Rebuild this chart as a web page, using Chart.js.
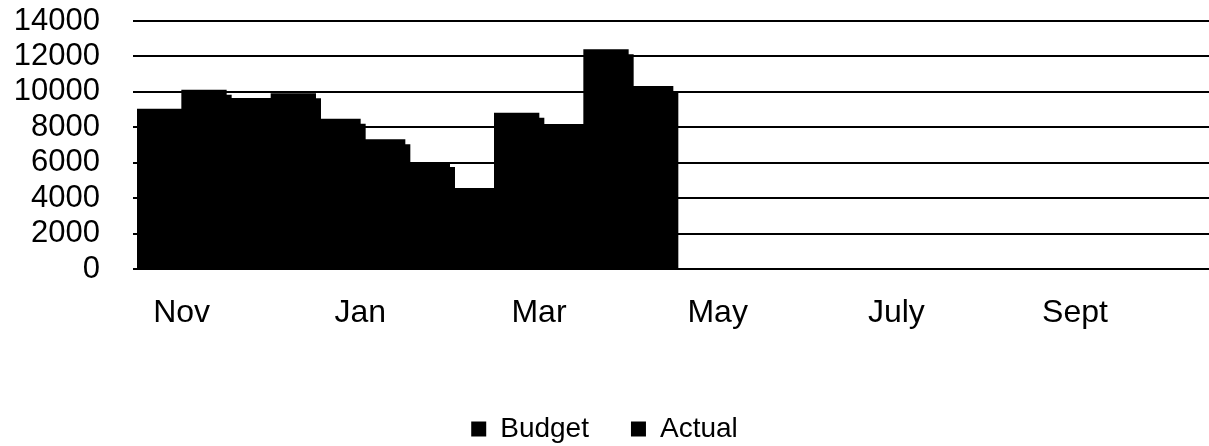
<!DOCTYPE html>
<html>
<head>
<meta charset="utf-8">
<script src="https://cdn.jsdelivr.net/npm/chart.js@4.4.1/dist/chart.umd.min.js"></script>
<style>
  html, body { margin: 0; padding: 0; background: #ffffff; }
  #wrap { width: 1209px; height: 446px; }
</style>
</head>
<body>
<div id="wrap"><canvas id="c" width="1209" height="446"></canvas></div>
<script>
// ---- data ----
const months = ['Nov', 'Dec', 'Jan', 'Feb', 'Mar', 'Apr', 'May', 'June', 'July', 'Aug', 'Sept', 'Oct'];
const budget = [9030, 9630, 8470, 6020, 8800, 12380, null, null, null, null, null, null];
const actual = [10100, 9900, 7300, 4550, 8160, 10310, null, null, null, null, null, null];
const seriesNames = ['Budget', 'Actual'];
const yMin = 0;
const yMax = 14000;
const yStep = 2000;

// ---- layout constants ----
const Y_AXIS_WIDTH = 137;
const X_AXIS_HEIGHT = 104;
const LEGEND_HEIGHT = 73;

const FONT = "'Liberation Sans', Arial, sans-serif";
Chart.defaults.font.family = FONT;
Chart.defaults.color = '#000000';

const barShadow = {
  id: 'barShadow',
  beforeDatasetsDraw(chart) {
    const ctx = chart.ctx;
    ctx.save();
    ctx.shadowColor = '#000000';
    ctx.shadowOffsetX = 5;
    ctx.shadowOffsetY = 5;
    ctx.shadowBlur = 0;
  },
  afterDatasetsDraw(chart) {
    chart.ctx.restore();
  }
};

const legendFit = {
  id: 'legendFit',
  beforeLayout(chart) {
    const lg = chart.legend;
    if (lg && !lg.__wrapped) {
      const orig = lg.fit;
      lg.fit = function () { orig.call(this); this.height = LEGEND_HEIGHT; };
      lg.__wrapped = true;
    }
  }
};

new Chart(document.getElementById('c'), {
  type: 'bar',
  data: {
    labels: months,
    datasets: [
      { label: seriesNames[0], data: budget, backgroundColor: '#000000', borderWidth: 0,
        barPercentage: 1, categoryPercentage: 1, clip: 0 },
      { label: seriesNames[1], data: actual, backgroundColor: '#000000', borderWidth: 0,
        barPercentage: 1, categoryPercentage: 1, clip: 0 }
    ]
  },
  options: {
    responsive: false,
    animation: false,
    devicePixelRatio: 1,
    layout: { padding: { top: 21, right: 0, bottom: 0, left: 0 } },
    plugins: {
      tooltip: { enabled: false },
      legend: {
        position: 'bottom',
        labels: {
          boxWidth: 15,
          boxHeight: 15,
          padding: 42,
          color: '#000000',
          font: { size: 28, family: FONT }
        }
      }
    },
    scales: {
      x: {
        grid: { display: false, drawTicks: false },
        border: { display: false },
        ticks: {
          autoSkip: false,
          maxRotation: 0,
          minRotation: 0,
          padding: 25,
          color: '#000000',
          font: { size: 32, family: FONT },
          callback: function (value, index) { return index % 2 === 0 ? months[index] : ''; }
        },
        afterFit: function (s) { s.height = X_AXIS_HEIGHT; s.paddingLeft = 0; s.paddingRight = 0; }
      },
      y: {
        min: yMin,
        max: yMax,
        grid: { color: '#000000', lineWidth: 2, drawTicks: true, tickLength: 4 },
        border: { display: false },
        ticks: {
          stepSize: yStep,
          autoSkip: false,
          padding: 33,
          color: '#000000',
          font: { size: 31, family: FONT },
          callback: function (value) { return String(value); }
        },
        afterFit: function (s) { s.width = Y_AXIS_WIDTH; s.paddingTop = 0; s.paddingBottom = 0; }
      }
    }
  },
  plugins: [barShadow, legendFit]
});
</script>
</body>
</html>
